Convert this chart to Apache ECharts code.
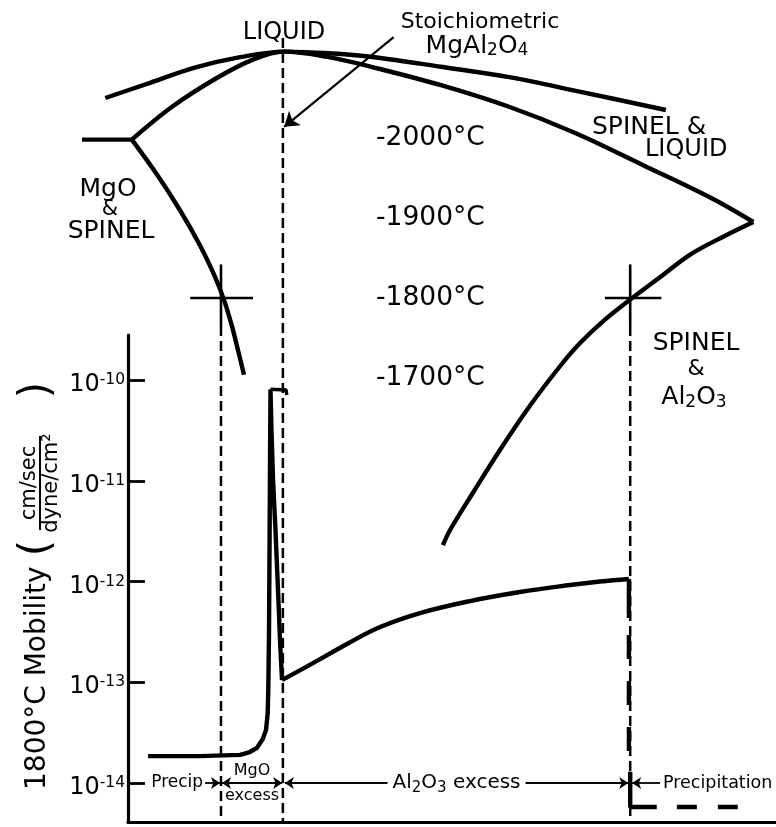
<!DOCTYPE html>
<html>
<head>
<meta charset="utf-8">
<script src="https://cdn.jsdelivr.net/npm/echarts@6.0.0/dist/echarts.min.js"></script>
<style>
html,body{margin:0;padding:0;background:#fff;}
#chart{width:776px;height:827px;}
</style>
</head>
<body>
<div id="chart"></div>
<script>
// ---------- Phase diagram (composition across plot width, temperature in °C) ----------
const liquidUpperX = [-3.5, 3.4, 10.3, 17.3, 24.1, 31.0, 38.0, 48.3, 58.8, 69.1, 83.0];
const liquidUpperT = [2050, 2069, 2088, 2101, 2108, 2106, 2101, 2089, 2076, 2059, 2035];

const liquidLowerX = [0.6, 6.8, 13.7, 19.3, 24.1, 31.0, 38.0, 48.3, 58.8, 69.1, 79.5, 90.0, 96.5];
const liquidLowerT = [1998, 2039, 2075, 2098, 2108, 2101, 2088, 2066, 2039, 2006, 1966, 1925, 1895];

const eutecticX = [-7.1, 0.6];
const eutecticT = [1998, 1998];

const solvusMgOX = [0.6, 4.5, 8.0, 11.1, 13.3, 14.8, 16.0, 16.97, 17.9];
const solvusMgOT = [1998, 1954, 1910, 1866, 1829, 1798, 1766, 1735, 1704];

const solvusAlX = [96.5, 91.7, 86.7, 82.1, 77.8, 73.6, 69.8, 66.7, 62.0, 57.4, 53.5, 49.7, 48.6];
const solvusAlT = [1895, 1876, 1854, 1826, 1800, 1773, 1744, 1715, 1665, 1610, 1560, 1510, 1491];

const tempTickValues = [1700, 1800, 1900, 2000];

// 1800 °C markers
const crossT = 1800;
const crossLeftX = [9.6, 19.3];
const crossRightX = [73.6, 82.3];
const crossStemX = [14.35, 77.5];
const crossStemT = [1842, 1765];

// composition boundary lines
const boundaryX = [14.35, 23.9, 77.5];
const boundaryTopT = [1765, 2125, 1765];
const boundaryBottomT = 1145;

// arrow pointing to stoichiometric MgAl2O4
const stoichArrowX = [41.0, 24.1];
const stoichArrowT = [2126, 2014];

// ---------- 1800 °C mobility (cm/sec / dyne/cm²) ----------
const spikeX = [3.1, 11.1, 17.3, 18.8, 19.9, 20.8, 21.3, 21.56, 21.65, 21.76, 21.84, 21.91, 21.99, 22.14, 22.38, 22.76, 23.15, 23.46, 23.77];
const spikeM = [1.85e-14, 1.85e-14, 1.90e-14, 2.03e-14, 2.23e-14, 2.73e-14, 3.36e-14, 4.95e-14, 8.4e-14, 3.1e-13, 2.06e-12, 1.28e-11, 8.1e-11, 3.19e-11, 1.02e-11, 3.24e-12, 8.24e-13, 2.62e-13, 1.05e-13];

const aluminaX = [23.77, 28.55, 33.8, 38.9, 45.06, 52.78, 60.49, 68.21, 72.84, 77.3];
const aluminaM = [1.05e-13, 1.55e-13, 2.40e-13, 3.53e-13, 4.86e-13, 6.40e-13, 7.87e-13, 9.23e-13, 1.0e-12, 1.06e-12];

const dropSolidX = [77.3, 77.3];
const dropSolidM = [1.06e-12, 4.35e-13];
const dropDashX = [77.3, 77.3];
const dropDashM = [2.94e-13, 2.08e-14];
const precipLX = [77.5, 77.5, 81.6];
const precipLM = [1.29e-14, 5.78e-15, 5.78e-15];
const precipDashX = [84.7, 94.1];
const precipDashM = [5.78e-15, 5.78e-15];
const peakHookX = [21.99, 24.4, 24.5];
const peakHookM = [8.1e-11, 7.96e-11, 7.1e-11];

const mobilityTicks = [1e-14, 1e-13, 1e-12, 1e-11, 1e-10];
const mobilityMin = 4.10e-15;
const mobilityMax = 2.80e-10;

// composition regions along the 10^-14 row
const rowM = 1e-14;
const regionPrecipX = [11.9, 14.2];
const regionMgOX = [14.5, 23.8];
const regionAlX = [24.2, 77.2];
const regionPrecipitationX = [77.8, 82.1];

// ---------- build ----------
const BLACK = '#000';
const FONT = "'DejaVu Sans', sans-serif";
const pairs = (xs, ys) => xs.map((x, i) => [x, ys[i]]);
const logPairs = (xs, ms) => xs.map((x, i) => [x, Math.log10(ms[i])]);

function phaseLine(name, data, extra) {
  return Object.assign({
    name, type: 'line', xAxisIndex: 0, yAxisIndex: 0, data,
    showSymbol: false, symbol: 'none', clip: false, silent: true,
    lineStyle: { color: BLACK, width: 4.4 }, smooth: 0.35
  }, extra || {});
}
function mobLine(name, data, extra) {
  return Object.assign({
    name, type: 'line', xAxisIndex: 1, yAxisIndex: 1, data,
    showSymbol: false, symbol: 'none', clip: false, silent: true,
    lineStyle: { color: BLACK, width: 4.4 }
  }, extra || {});
}
const dashed = { color: BLACK, width: 2.5, type: [10, 5] };
const thin = { color: BLACK, width: 2.6 };

const series = [
  phaseLine('liquidUpper', pairs(liquidUpperX, liquidUpperT)),
  phaseLine('liquidLower', pairs(liquidLowerX, liquidLowerT)),
  phaseLine('eutectic', pairs(eutecticX, eutecticT), {
    smooth: false,
    markLine: {
      silent: true, animation: false, symbol: ['none', 'arrow'], symbolSize: 14,
      lineStyle: { color: BLACK, width: 2.2, type: 'solid' }, label: { show: false },
      data: [[{ coord: [stoichArrowX[0], stoichArrowT[0]] }, { coord: [stoichArrowX[1], stoichArrowT[1]] }]]
    }
  }),
  phaseLine('solvusMgO', pairs(solvusMgOX, solvusMgOT)),
  phaseLine('solvusAl', pairs(solvusAlX, solvusAlT)),
  phaseLine('crossLeft', pairs(crossLeftX, [crossT, crossT]), { smooth: false, lineStyle: thin }),
  phaseLine('crossRight', pairs(crossRightX, [crossT, crossT]), { smooth: false, lineStyle: thin }),
  phaseLine('stemLeft', pairs([crossStemX[0], crossStemX[0]], crossStemT), { smooth: false, lineStyle: thin }),
  phaseLine('stemRight', pairs([crossStemX[1], crossStemX[1]], crossStemT), { smooth: false, lineStyle: thin })
];
boundaryX.forEach((bx, i) => {
  series.push(phaseLine('boundary' + i, [[bx, boundaryTopT[i]], [bx, boundaryBottomT]], { smooth: false, lineStyle: dashed }));
});

const rowLabel = { color: BLACK, fontFamily: FONT, fontSize: 17 };
series.push(
  mobLine('spike', logPairs(spikeX, spikeM)),
  mobLine('alumina', logPairs(aluminaX, aluminaM), { smooth: 0.4 }),
  mobLine('dropSolid', logPairs(dropSolidX, dropSolidM)),
  mobLine('dropDash', logPairs(dropDashX, dropDashM), { lineStyle: { color: BLACK, width: 4.4, type: [24, 22] } }),
  mobLine('precipL', logPairs(precipLX, precipLM)),
  mobLine('peakHook', logPairs(peakHookX, peakHookM), { lineStyle: { color: BLACK, width: 3.4 } }),
  mobLine('precipDash', logPairs(precipDashX, precipDashM), {
    lineStyle: { color: BLACK, width: 4.4, type: [20, 21] },
    markLine: {
      silent: true, animation: false, symbol: ['none', 'none'], symbolSize: 9,
      lineStyle: { color: BLACK, width: 1.8, type: 'solid' },
      label: { show: false },
      data: [
        [{ coord: [regionPrecipX[0], Math.log10(rowM)], symbol: 'none',
           label: Object.assign({ show: true, position: 'start', distance: 2, formatter: 'Precip' }, rowLabel) },
         { coord: [regionPrecipX[1], Math.log10(rowM)], symbol: 'arrow' }],
        [{ coord: [regionMgOX[0], Math.log10(rowM)], symbol: 'arrow',
           label: Object.assign({ show: true, position: 'middle', distance: 0, verticalAlign: 'middle', lineHeight: 25, formatter: 'MgO\nexcess' }, rowLabel, { fontSize: 16 }) },
         { coord: [regionMgOX[1], Math.log10(rowM)], symbol: 'arrow' }],
        [{ coord: [regionAlX[0], Math.log10(rowM)], symbol: 'arrow',
           label: { show: true, position: 'middle', distance: 0, verticalAlign: 'middle', backgroundColor: '#fff', padding: [0, 5],
                    formatter: '{n|Al}{s|2}{n|O}{s|3}{n| excess}',
                    rich: { n: { fontFamily: FONT, fontSize: 20, color: BLACK }, s: { fontFamily: FONT, fontSize: 15, color: BLACK, padding: [10, 0, 0, 0] } } } },
         { coord: [regionAlX[1], Math.log10(rowM)], symbol: 'arrow' }],
        [{ coord: [regionPrecipitationX[0], Math.log10(rowM)], symbol: 'arrow',
           label: Object.assign({ show: true, position: 'end', distance: 3, formatter: 'Precipitation' }, rowLabel, { fontSize: 17.5 }) },
         { coord: [regionPrecipitationX[1], Math.log10(rowM)], symbol: 'none' }]
      ]
    }
  })
);

const tickExps = mobilityTicks.map(v => Math.round(Math.log10(v)));

// phase-diagram grid shares the same composition scale but reaches further left
const phaseXMin = -10;

const option = {
  animation: false,
  backgroundColor: '#fff',
  grid: [
    { left: 128 + phaseXMin * 6.48, right: 0, top: 18, height: 600 },
    { left: 128, right: 0, top: 335, bottom: 5 }
  ],
  xAxis: [
    { gridIndex: 0, type: 'value', min: phaseXMin, max: 100, show: false },
    { gridIndex: 1, type: 'value', min: 0, max: 100,
      axisLine: { show: true, onZero: false, lineStyle: { color: BLACK, width: 3.2 } },
      axisTick: { show: false }, axisLabel: { show: false }, splitLine: { show: false } }
  ],
  yAxis: [
    { gridIndex: 0, type: 'value', min: 1400, max: 2150, interval: 100, position: 'left', offset: -(376 - (128 + phaseXMin * 6.48)),
      axisLine: { show: false }, axisTick: { show: false }, splitLine: { show: false },
      axisLabel: { inside: true, margin: 0, color: BLACK, fontFamily: FONT, fontSize: 26.5,
        formatter: v => (tempTickValues.indexOf(v) >= 0 ? '-' + v + '°C' : '') } },
    { gridIndex: 1, type: 'value', min: Math.log10(mobilityMin), max: Math.log10(mobilityMax),
      axisLine: { show: true, onZero: false, lineStyle: { color: BLACK, width: 3.2 } },
      axisTick: { show: true, inside: true, length: 17, customValues: tickExps, lineStyle: { color: BLACK, width: 2.8 } },
      splitLine: { show: false },
      axisLabel: { customValues: tickExps, margin: 3, padding: [10, 0, 0, 0],
        formatter: v => '{b|10}{s|' + Math.round(v) + '}',
        rich: { b: { fontFamily: FONT, fontSize: 24, color: BLACK }, s: { fontFamily: FONT, fontSize: 15.5, color: BLACK, padding: [0, 0, 10, 0] } } } }
  ],
  graphic: [
    { type: 'text', x: 284, y: 33, style: { text: 'LIQUID', font: '24px ' + FONT, fill: BLACK, align: 'center', verticalAlign: 'middle' } },
    { type: 'text', x: 480, y: 22, style: { text: 'Stoichiometric', font: '22px ' + FONT, fill: BLACK, align: 'center', verticalAlign: 'middle' } },
    { type: 'text', x: 477, y: 46, style: { text: '{a|MgAl}{s|2}{a|O}{s|4}', fill: BLACK, align: 'center', verticalAlign: 'middle',
        rich: { a: { fontSize: 25, fontFamily: FONT, fill: BLACK }, s: { fontSize: 17, fontFamily: FONT, fill: BLACK, padding: [10, 0, 0, 0] } } } },
    { type: 'text', x: 592, y: 127, style: { text: 'SPINEL &', font: '25px ' + FONT, fill: BLACK, align: 'left', verticalAlign: 'middle' } },
    { type: 'text', x: 645, y: 150, style: { text: 'LIQUID', font: '24px ' + FONT, fill: BLACK, align: 'left', verticalAlign: 'middle' } },
    { type: 'text', x: 108, y: 189, style: { text: 'MgO', font: '25px ' + FONT, fill: BLACK, align: 'center', verticalAlign: 'middle' } },
    { type: 'text', x: 110, y: 210, style: { text: '&', font: '21px ' + FONT, fill: BLACK, align: 'center', verticalAlign: 'middle' } },
    { type: 'text', x: 111, y: 231, style: { text: 'SPINEL', font: '25px ' + FONT, fill: BLACK, align: 'center', verticalAlign: 'middle' } },
    { type: 'text', x: 696, y: 343, style: { text: 'SPINEL', font: '25px ' + FONT, fill: BLACK, align: 'center', verticalAlign: 'middle' } },
    { type: 'text', x: 696, y: 369, style: { text: '&', font: '22px ' + FONT, fill: BLACK, align: 'center', verticalAlign: 'middle' } },
    { type: 'text', x: 694, y: 397, style: { text: '{a|Al}{s|2}{a|O}{s|3}', fill: BLACK, align: 'center', verticalAlign: 'middle',
        rich: { a: { fontSize: 25, fontFamily: FONT, fill: BLACK }, s: { fontSize: 17, fontFamily: FONT, fill: BLACK, padding: [11, 0, 0, 0] } } } },
    { type: 'group', x: 38, y: 590, rotation: Math.PI / 2, children: [
      { type: 'text', x: -200, y: 0, style: { text: '1800°C Mobility', font: '28px ' + FONT, fill: BLACK, align: 'left', verticalAlign: 'middle' } },
      { type: 'text', x: 42, y: 0, style: { text: '(', font: '42px ' + FONT, fill: BLACK, align: 'center', verticalAlign: 'middle' } },
      { type: 'text', x: 107, y: -8, style: { text: 'cm/sec', font: '21px ' + FONT, fill: BLACK, align: 'center', verticalAlign: 'middle' } },
      { type: 'line', shape: { x1: 60, y1: 2, x2: 154, y2: 2 }, style: { stroke: BLACK, lineWidth: 2 } },
      { type: 'text', x: 107, y: 14, style: { text: 'dyne/cm²', font: '21px ' + FONT, fill: BLACK, align: 'center', verticalAlign: 'middle' } },
      { type: 'text', x: 200, y: 0, style: { text: ')', font: '42px ' + FONT, fill: BLACK, align: 'center', verticalAlign: 'middle' } }
    ] }
  ],
  series
};

const chart = echarts.init(document.getElementById('chart'), null, { renderer: 'canvas' });
chart.setOption(option);
</script>
</body>
</html>
